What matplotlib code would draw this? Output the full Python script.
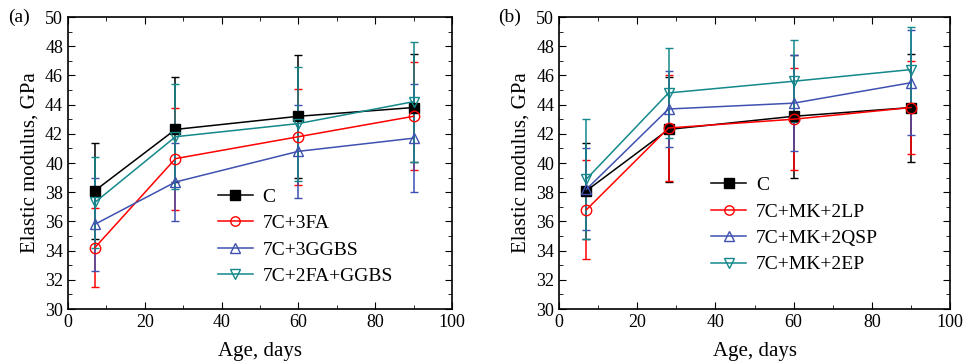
import numpy as np
import matplotlib.pyplot as plt
from matplotlib.ticker import MultipleLocator

plt.rcParams['font.family'] = ['Liberation Serif', 'DejaVu Serif']

age = [7, 28, 60, 90]

# panel (a)
c_mean = [38.1, 42.3, 43.2, 43.8]
c_err = [3.3, 3.6, 4.2, 3.7]
fa_mean = [34.2, 40.3, 41.8, 43.2]
fa_err = [2.7, 3.5, 3.3, 3.7]
ggbs_mean = [35.8, 38.7, 40.8, 41.7]
ggbs_err = [3.2, 2.7, 3.2, 3.7]
fagg_mean = [37.3, 41.8, 42.7, 44.2]
fagg_err = [3.1, 3.6, 3.9, 4.1]

# panel (b)
lp_mean = [36.8, 42.4, 43.0, 43.8]
lp_err = [3.4, 3.6, 3.5, 3.2]
qsp_mean = [38.2, 43.7, 44.1, 45.5]
qsp_err = [2.8, 2.6, 3.3, 3.6]
ep_mean = [38.9, 44.8, 45.6, 46.4]
ep_err = [4.1, 3.1, 2.8, 2.9]

BLUE = '#3f51b0'
TEAL = '#14888a'

series_a = [
    ('C', c_mean, c_err, 'k', 's', 'k'),
    ('7C+3FA', fa_mean, fa_err, 'red', 'o', 'none'),
    ('7C+3GGBS', ggbs_mean, ggbs_err, BLUE, '^', 'none'),
    ('7C+2FA+GGBS', fagg_mean, fagg_err, TEAL, 'v', 'none'),
]
series_b = [
    ('C', c_mean, c_err, 'k', 's', 'k'),
    ('7C+MK+2LP', lp_mean, lp_err, 'red', 'o', 'none'),
    ('7C+MK+2QSP', qsp_mean, qsp_err, BLUE, '^', 'none'),
    ('7C+MK+2EP', ep_mean, ep_err, TEAL, 'v', 'none'),
]

fig = plt.figure(figsize=(9.68, 3.62), dpi=100)
ax1 = fig.add_axes([0.0702, 0.1464, 0.3967, 0.8066])
ax2 = fig.add_axes([0.5775, 0.1464, 0.4040, 0.8066])


def draw(ax, series, tag, legend_pos):
    for name, m, e, col, mk, face in series:
        ax.errorbar(age, m, yerr=e, color=col, marker=mk, markersize=7.5,
                    markerfacecolor=face, markeredgecolor=col, markeredgewidth=1.0,
                    linewidth=1.1, elinewidth=1.1, capsize=3, capthick=1.1, label=name)
    ax.set_xlim(0, 100)
    ax.set_ylim(30, 50)
    ax.xaxis.set_major_locator(MultipleLocator(20))
    ax.xaxis.set_minor_locator(MultipleLocator(10))
    ax.yaxis.set_major_locator(MultipleLocator(2))
    ax.yaxis.set_minor_locator(MultipleLocator(1))
    ax.tick_params(which='both', direction='in', top=True, right=True, labelsize=13)
    ax.tick_params(which='major', length=5)
    ax.tick_params(which='minor', length=3)
    for s in ax.spines.values():
        s.set_linewidth(1.2)
    ax.set_xlabel('Age, days', fontsize=15, labelpad=8)
    ax.set_ylabel('Elastic modulus, GPa', fontsize=15, labelpad=4)
    handles, labels = ax.get_legend_handles_labels()
    handles = [h[0] for h in handles]
    ax.legend(handles, labels, loc='upper left', bbox_to_anchor=legend_pos,
              frameon=False, fontsize=14, handlelength=1.8, handletextpad=0.5,
              labelspacing=0.45, borderaxespad=0, markerscale=0.9)
    ax.text(-0.155, 1.0, tag, transform=ax.transAxes, fontsize=14, va='center')


draw(ax1, series_a, '(a)', (0.37, 0.44))
draw(ax2, series_b, '(b)', (0.37, 0.48))

fig.savefig('out.png', dpi=100)
